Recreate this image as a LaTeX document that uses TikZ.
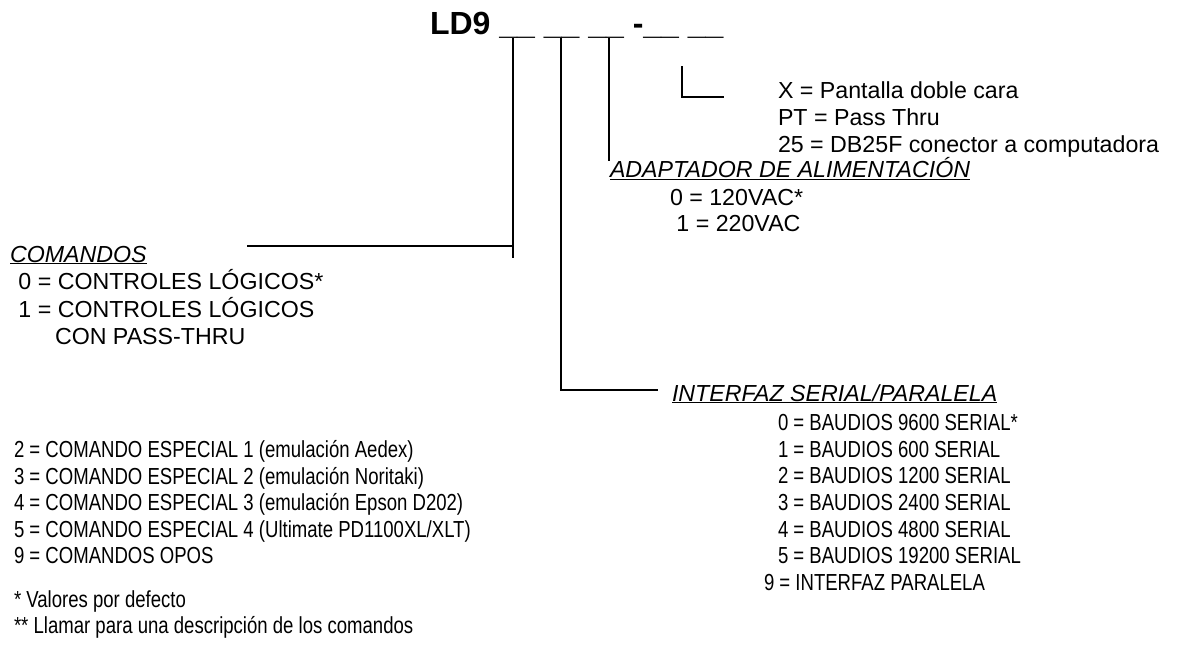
\documentclass[tikz,border=0pt]{standalone}
\usepackage{fontspec}
\setmainfont{Liberation Sans}
\newfontfamily\narrowfont[FakeStretch=0.8]{Liberation Sans}
\begin{document}
\begin{tikzpicture}[x=1pt,y=-1pt,
  txt/.style={anchor=base west, inner sep=0pt, outer sep=0pt, font=\fontsize{23.2}{26.7}\selectfont},
  ntxt/.style={anchor=base west, inner sep=0pt, outer sep=0pt, font=\narrowfont\fontsize{23.2}{26.7}\selectfont},
  ttl/.style={anchor=base west, inner sep=0pt, outer sep=0pt, font=\bfseries\fontsize{32}{36}\selectfont},
  lead/.style={line width=1.8pt, line cap=rect}]
\path[fill=white, use as bounding box] (0,0) rectangle (1181,655);

% title code
\node[ttl] (title) at (430,35) {LD9 \_\_ \_\_ \_\_ -\_\_ \_\_};

% connector end points
\coordinate (c1top) at (513,39);
\coordinate (c1bot) at (513,257);
\coordinate (c1end) at (248,246);
\coordinate (c2top) at (561,39);
\coordinate (c2end) at (657,390);
\coordinate (c3top) at (609,39);
\coordinate (c3bot) at (609,160);
\coordinate (c4top) at (682,67);
\coordinate (c4end) at (723,97);

\draw[lead] (c1top) -- (c1bot);
\draw[lead] (c1end) -- (c1end -| c1top);
\draw[lead] (c2top) |- (c2end);
\draw[lead] (c3top) -- (c3bot);
\draw[lead] (c4top) |- (c4end);

% suffix options
\node[txt] (x)  at (778,99)  {X = Pantalla doble cara};
\node[txt] (pt) at (778,126) {PT = Pass Thru};
\node[txt] (db) at (778,153) {25 = DB25F conector a computadora};

% power adapter
\node[txt] (pwr)  at (610,178) {\underline{\textit{ADAPTADOR DE ALIMENTACIÓN}}};
\node[txt] (pwr0) at (670,206) {0 = 120VAC*};
\node[txt] (pwr1) at (670,232) {\ 1 = 220VAC};

% commands
\node[txt] (cmd)  at (10,262) {\underline{\textit{COMANDOS}}};
\node[txt] (cmd0) at (12,290) {\ 0 = CONTROLES LÓGICOS*};
\node[txt] (cmd1) at (12,317) {\ 1 = CONTROLES LÓGICOS};
\node[txt] (cmd1b) at (55,344) {CON PASS-THRU};

% interface
\node[txt] (ifc)  at (672,401) {\underline{\textit{INTERFAZ SERIAL/PARALELA}}};
\node[ntxt] (ifc0) at (778,430) {0 = BAUDIOS 9600 SERIAL*};
\node[ntxt] (ifc1) at (778,457) {1 = BAUDIOS 600 SERIAL};
\node[ntxt] (ifc2) at (778,483) {2 = BAUDIOS 1200 SERIAL};
\node[ntxt] (ifc3) at (778,510) {3 = BAUDIOS 2400 SERIAL};
\node[ntxt] (ifc4) at (778,537) {4 = BAUDIOS 4800 SERIAL};
\node[ntxt] (ifc5) at (778,563) {5 = BAUDIOS 19200 SERIAL};
\node[ntxt] (ifc9) at (764,590) {9 = INTERFAZ PARALELA};

% special commands
\node[ntxt] (sp2) at (14,457) {2 = COMANDO ESPECIAL 1 (emulación Aedex)};
\node[ntxt] (sp3) at (14,484) {3 = COMANDO ESPECIAL 2 (emulación Noritaki)};
\node[ntxt] (sp4) at (14,510) {4 = COMANDO ESPECIAL 3 (emulación Epson D202)};
\node[ntxt] (sp5) at (14,537) {5 = COMANDO ESPECIAL 4 (Ultimate PD1100XL/XLT)};
\node[ntxt] (sp9) at (14,563) {9 = COMANDOS OPOS};

% footnotes
\node[ntxt] (fn1) at (14,607) {* Valores por defecto};
\node[ntxt] (fn2) at (14,633) {** Llamar para una descripción de los comandos};
\end{tikzpicture}
\end{document}
